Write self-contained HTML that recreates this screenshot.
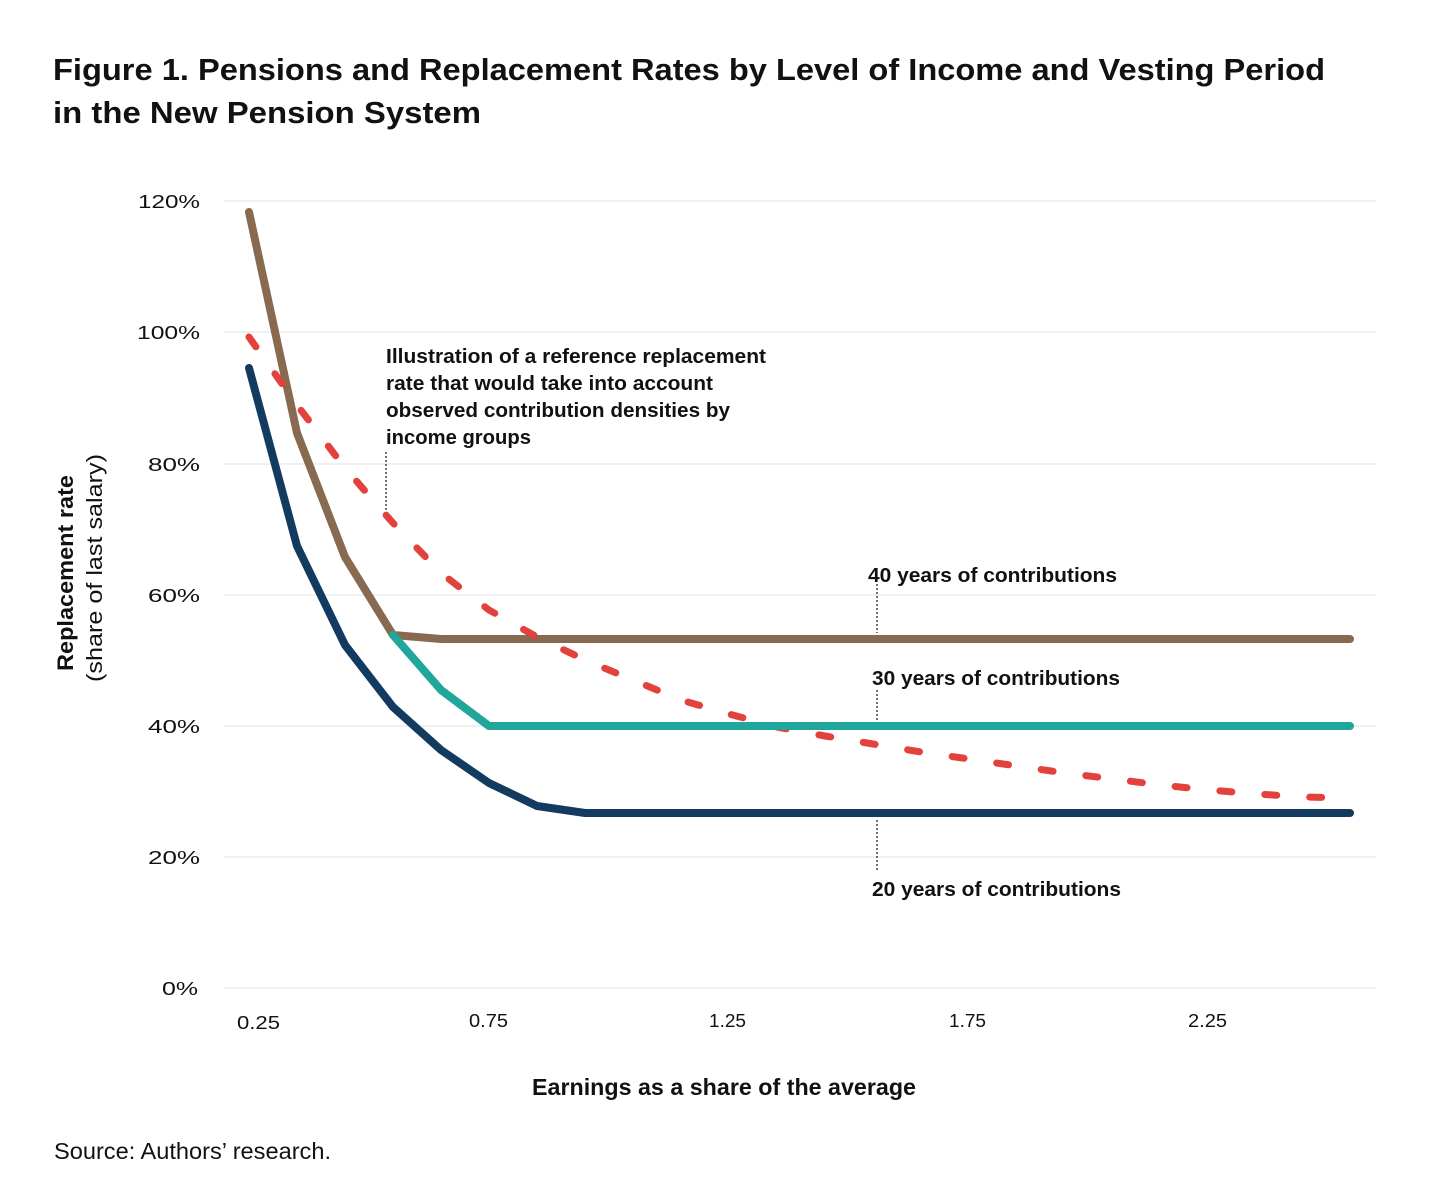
<!DOCTYPE html>
<html>
<head>
<meta charset="utf-8">
<style>
  html, body { margin: 0; padding: 0; background: #ffffff; }
  svg { display: block; }
  text { font-family: "Liberation Sans", "DejaVu Sans", sans-serif; fill: #111111; }
</style>
</head>
<body>
<svg width="1430" height="1195" viewBox="0 0 1430 1195" xmlns="http://www.w3.org/2000/svg">
  <rect x="0" y="0" width="1430" height="1195" fill="#ffffff"/>

  <!-- Title -->
  <text x="53" y="80" font-size="31" font-weight="bold" textLength="1272" lengthAdjust="spacingAndGlyphs">Figure 1. Pensions and Replacement Rates by Level of Income and Vesting Period</text>
  <text x="53" y="123" font-size="31" font-weight="bold" textLength="428" lengthAdjust="spacingAndGlyphs">in the New Pension System</text>

  <!-- Gridlines -->
  <g stroke="#e6e6e6" stroke-width="1.2">
    <line x1="224" y1="201" x2="1376" y2="201"/>
    <line x1="224" y1="332" x2="1376" y2="332"/>
    <line x1="224" y1="464" x2="1376" y2="464"/>
    <line x1="224" y1="595" x2="1376" y2="595"/>
    <line x1="224" y1="726" x2="1376" y2="726"/>
    <line x1="224" y1="857" x2="1376" y2="857"/>
    <line x1="224" y1="988" x2="1376" y2="988"/>
  </g>

  <!-- Y tick labels -->
  <g font-size="18">
    <text x="138" y="208" textLength="62" lengthAdjust="spacingAndGlyphs">120%</text>
    <text x="137" y="339" textLength="63" lengthAdjust="spacingAndGlyphs">100%</text>
    <text x="148" y="471" textLength="52" lengthAdjust="spacingAndGlyphs">80%</text>
    <text x="148" y="602" textLength="52" lengthAdjust="spacingAndGlyphs">60%</text>
    <text x="148" y="733" textLength="52" lengthAdjust="spacingAndGlyphs">40%</text>
    <text x="148" y="864" textLength="52" lengthAdjust="spacingAndGlyphs">20%</text>
    <text x="162" y="995" textLength="36" lengthAdjust="spacingAndGlyphs">0%</text>
  </g>

  <!-- X tick labels -->
  <g font-size="18">
    <text x="237" y="1029" textLength="43" lengthAdjust="spacingAndGlyphs">0.25</text>
    <text x="469" y="1027" textLength="39" lengthAdjust="spacingAndGlyphs">0.75</text>
    <text x="709" y="1027" textLength="37" lengthAdjust="spacingAndGlyphs">1.25</text>
    <text x="949" y="1027" textLength="37" lengthAdjust="spacingAndGlyphs">1.75</text>
    <text x="1188" y="1027" textLength="39" lengthAdjust="spacingAndGlyphs">2.25</text>
  </g>

  <!-- Axis titles -->
  <text x="532" y="1095" font-size="23" font-weight="bold" textLength="384" lengthAdjust="spacingAndGlyphs">Earnings as a share of the average</text>
  <text transform="translate(73,573) rotate(-90)" text-anchor="middle" font-size="22" font-weight="bold" textLength="196" lengthAdjust="spacingAndGlyphs">Replacement rate</text>
  <text transform="translate(102,568) rotate(-90)" text-anchor="middle" font-size="22" textLength="228" lengthAdjust="spacingAndGlyphs">(share of last salary)</text>

  <!-- Leader lines (dotted) -->
  <g stroke="#111111" stroke-width="1.2" stroke-dasharray="2 2" fill="none">
    <line x1="386" y1="452" x2="386" y2="517"/>
    <line x1="877" y1="584" x2="877" y2="633"/>
    <line x1="877" y1="690" x2="877" y2="721"/>
    <line x1="877" y1="820" x2="877" y2="872"/>
  </g>

  <!-- Series -->
  <g fill="none" stroke-linejoin="round" stroke-linecap="round">
    <!-- 40 years (brown) -->
    <polyline stroke="#876a4f" stroke-width="8"
      points="249,212 297,433 345,557 393,635 441,639 1350,639"/>
    <!-- reference (red dashed) -->
    <polyline stroke="#e2423b" stroke-width="7" stroke-dasharray="12 33"
      points="249,337 297,405 345,468 393,523 441,573 489,610 537,637 585,660 633,680 681,700 729,714 777,727 825,736 873,744 921,752 969,759 1017,766 1065,773 1113,779 1161,785 1209,790 1257,794 1305,797 1350,798"/>
    <!-- 30 years (teal) -->
    <polyline stroke="#20a69a" stroke-width="8"
      points="393,635 441,690 489,726 1350,726"/>
    <!-- 20 years (navy) -->
    <polyline stroke="#133b5f" stroke-width="8"
      points="249,368 297,546 345,645 393,707 441,750 489,783 537,806 585,813 1350,813"/>
  </g>

  <!-- Annotation -->
  <g font-size="20" font-weight="bold">
    <text x="386" y="363" textLength="380" lengthAdjust="spacingAndGlyphs">Illustration of a reference replacement</text>
    <text x="386" y="390" textLength="327" lengthAdjust="spacingAndGlyphs">rate that would take into account</text>
    <text x="386" y="417" textLength="344" lengthAdjust="spacingAndGlyphs">observed contribution densities by</text>
    <text x="386" y="444" textLength="145" lengthAdjust="spacingAndGlyphs">income groups</text>
  </g>

  <!-- Series labels -->
  <g font-size="20" font-weight="bold">
    <text x="868" y="582" textLength="249" lengthAdjust="spacingAndGlyphs">40 years of contributions</text>
    <text x="872" y="685" textLength="248" lengthAdjust="spacingAndGlyphs">30 years of contributions</text>
    <text x="872" y="896" textLength="249" lengthAdjust="spacingAndGlyphs">20 years of contributions</text>
  </g>

  <!-- Source -->
  <text x="54" y="1159" font-size="23" textLength="277" lengthAdjust="spacingAndGlyphs">Source: Authors’ research.</text>
</svg>
</body>
</html>
